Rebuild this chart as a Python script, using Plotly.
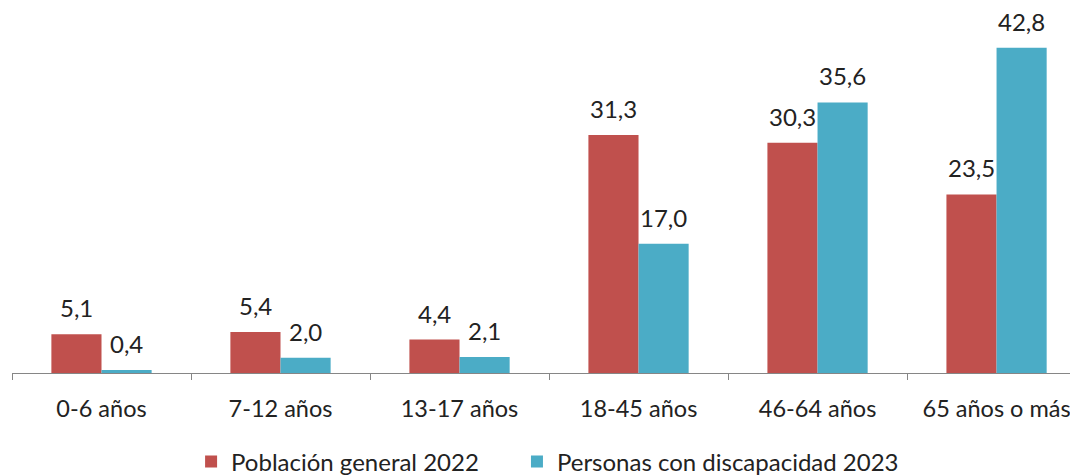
import plotly.graph_objects as go

categories = ['0-6 años', '7-12 años', '13-17 años', '18-45 años', '46-64 años', '65 años o más']
poblacion_2022 = [5.1, 5.4, 4.4, 31.3, 30.3, 23.5]
discapacidad_2023 = [0.4, 2.0, 2.1, 17.0, 35.6, 42.8]
series_names = ['Población general 2022', 'Personas con discapacidad 2023']

FONT = 'Lato'
RED = '#C0504D'
TEAL = '#4BACC6'
TXT = '#222222'
BAR_PX = 50  # ancho aprox. de cada barra en px


def fmt(v):
    return f'{v:.1f}'.replace('.', ',')


fig = go.Figure()
for name, vals, color, leg in [(series_names[0], poblacion_2022, RED, 'legend'),
                               (series_names[1], discapacidad_2023, TEAL, 'legend2')]:
    fig.add_trace(go.Bar(
        x=categories, y=vals, name=name,
        marker={'color': color, 'line': {'width': 0}},
        legend=leg, showlegend=True,
    ))

# etiquetas de valores encima de cada barra
for vals, shift in [(poblacion_2022, -BAR_PX / 2), (discapacidad_2023, BAR_PX / 2)]:
    for cat, v in zip(categories, vals):
        fig.add_annotation(
            x=cat, y=v, text=fmt(v), showarrow=False,
            xanchor='center', yanchor='bottom',
            xshift=shift, yshift=10,
            font={'family': FONT, 'size': 24, 'color': TXT},
        )

legend_style = {
    'orientation': 'h', 'xanchor': 'left',
    'y': -0.26, 'yanchor': 'middle',
    'font': {'size': 24}, 'itemwidth': 30,
}

fig.update_layout(
    width=1070, height=468,
    margin={'l': 4, 'r': 0, 't': 23, 'b': 103, 'autoexpand': False},
    showlegend=True,
    barmode='group',
    bargap=0.44,
    bargroupgap=0,
    plot_bgcolor='white',
    paper_bgcolor='white',
    font={'family': FONT, 'size': 24, 'color': TXT},
    legend={**legend_style, 'x': 0.168},
    legend2={**legend_style, 'x': 0.4737},
)
fig.update_xaxes(
    type='category',
    range=[-0.5, 5.455],
    showline=True, linecolor='#868686', linewidth=1,
    ticks='outside', tickson='boundaries', ticklen=6, tickcolor='#868686',
    tickfont={'size': 23.5},
    ticklabelstandoff=15,
    ticklabeloverflow='allow',
    showgrid=False,
)
fig.update_yaxes(
    range=[0, 45],
    visible=False,
    showgrid=False,
    zeroline=False,
)

fig.write_html('out.html')
